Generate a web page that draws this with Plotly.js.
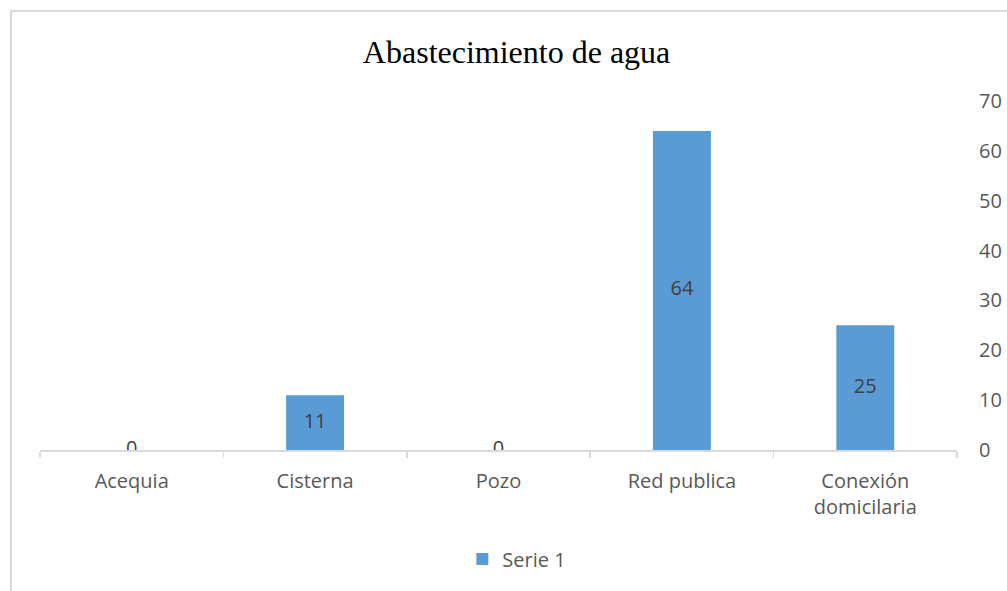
<!DOCTYPE html>
<html>
<head>
<meta charset="utf-8">
<script src="https://cdn.plot.ly/plotly-3.0.1.min.js"></script>
<style>
  html, body { margin: 0; padding: 0; background: #fff; }
  #wrap { position: relative; width: 1007px; height: 591px; overflow: hidden; }
  #chart { width: 1007px; height: 591px; }
  #frame { position: absolute; left: 10px; top: 10px; width: 1100px; height: 700px;
           border-left: 2px solid #d9d9d9; border-top: 2px solid #d9d9d9; pointer-events: none; }
</style>
</head>
<body>
<div id="wrap">
  <div id="chart"></div>
  <div id="frame"></div>
</div>
<script>
const categories = ["Acequia", "Cisterna", "Pozo", "Red publica", "Conexión<br>domicilaria"];
const values = [0, 11, 0, 64, 25];
const seriesName = "Serie 1";
const titleText = "Abastecimiento de agua";

const labelFont = { family: "Open Sans, Liberation Sans, sans-serif", size: 20, color: "#595959" };

const bars = {
  type: "bar",
  x: categories,
  y: values,
  name: seriesName,
  marker: { color: "#5b9bd5" },
  hoverinfo: "skip"
};

const labels = {
  type: "scatter",
  mode: "text",
  x: categories,
  y: values.map(v => v / 2),
  text: values.map(String),
  textposition: "middle center",
  textfont: { family: "Open Sans, Liberation Sans, sans-serif", size: 20, color: "#404040" },
  showlegend: false,
  hoverinfo: "skip"
};

const layout = {
  width: 1007,
  height: 591,
  margin: { l: 40, r: 50, t: 101, b: 138 },
  paper_bgcolor: "#ffffff",
  plot_bgcolor: "#ffffff",
  title: {
    text: titleText,
    font: { family: "Liberation Serif, Times New Roman, serif", size: 32, color: "#000000" },
    xref: "container", x: 0.513, xanchor: "center",
    yref: "container", y: 0.912, yanchor: "middle"
  },
  bargap: 0.684,
  xaxis: {
    type: "category",
    showline: true,
    linecolor: "#d9d9d9",
    linewidth: 1.5,
    ticks: "outside",
    tickson: "boundaries",
    ticklen: 6,
    tickcolor: "#d9d9d9",
    tickwidth: 1.5,
    showgrid: false,
    zeroline: false,
    tickfont: labelFont,
    ticklabelstandoff: 12
  },
  yaxis: {
    side: "right",
    range: [0, 70],
    dtick: 10,
    tick0: 0,
    showgrid: false,
    zeroline: false,
    showline: false,
    ticks: "",
    tickfont: labelFont,
    ticklabelstandoff: 21
  },
  showlegend: true,
  legend: {
    orientation: "h",
    x: 0.52, xanchor: "center",
    y: -0.3125, yanchor: "middle",
    font: labelFont,
    itemwidth: 30
  }
};

Plotly.newPlot("chart", [bars, labels], layout, { displayModeBar: false, staticPlot: true });
</script>
</body>
</html>
